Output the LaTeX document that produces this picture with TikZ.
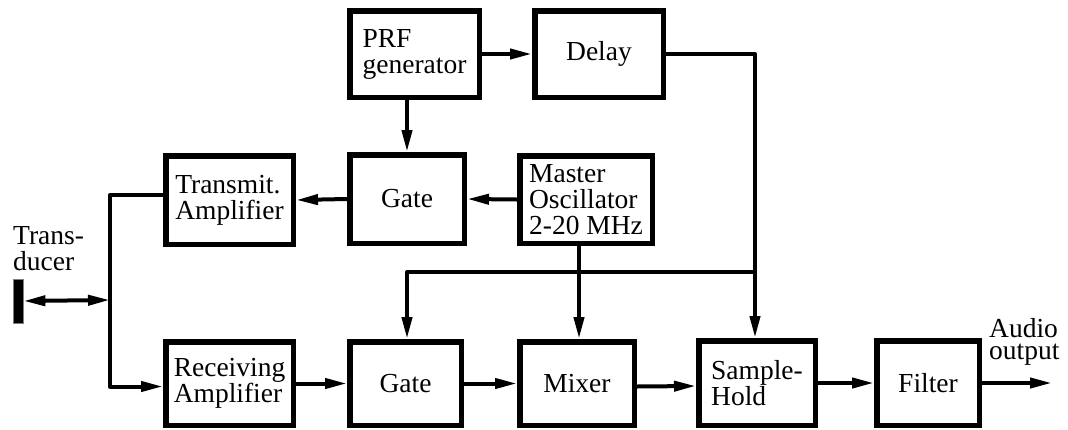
\documentclass[tikz,border=0pt]{standalone}
\usepackage{fontspec}
\setmainfont{Liberation Serif}
\usetikzlibrary{arrows.meta}

\begin{document}
\begin{tikzpicture}[x=1pt,y=-1pt,
  txt/.style={font=\fontsize{27.5}{26}\selectfont},
  box/.style={draw, line width=5.5pt, inner sep=0pt, align=left, txt},
  lbl/.style={inner sep=0pt, align=left, txt},
  wire/.style={line width=4pt, line join=round},
  tip/.tip={Triangle[length=22pt,width=10pt]},
  arr/.style={wire, -tip},
]
\useasboundingbox (0,0) rectangle (1068,429);

% upper row
\node[box, minimum width=129.5, minimum height=86.5] (prf)   at (414.5,54)  {PRF\\generator};
\node[box, minimum width=128.5, minimum height=86.5] (delay) at (599,54)    {Delay};
\node[box, minimum width=127.5, minimum height=88.5] (tx)    at (229.5,200) {Transmit.\\Amplifier};
\node[box, minimum width=114.5, minimum height=88.5] (gateT) at (407,199)   {Gate};
\node[box, minimum width=132.5, minimum height=87.5] (osc)   at (586,199.5) {Master\\Oscillator\\2-20 MHz};

% lower row
\node[box, minimum width=127.5, minimum height=83.5] (rx)    at (229.5,383.5) {Receiving\\Amplifier};
\node[box, minimum width=111.5, minimum height=83.5] (gateB) at (405.5,383.5) {Gate};
\node[box, minimum width=114.5, minimum height=83.5] (mixer) at (577,383.5)   {Mixer};
\node[box, minimum width=116.5, minimum height=84.5] (sh)    at (757,383)     {Sample-\\Hold};
\node[box, minimum width=102.5, minimum height=84.5] (filt)  at (928,383)     {Filter};

% transducer and labels
\node[draw=gray, fill=black, line width=0.8pt, inner sep=0pt,
      minimum width=10, minimum height=44] (xd) at (18,301) {};
\node[lbl, anchor=north west] (xdl) at (13,226) {Trans-\\ducer};
\node[lbl, anchor=north west, font=\fontsize{27.5}{22.5}\selectfont] (aud) at (989,318) {Audio\\output};

% junction points
\coordinate (bus) at (110,300);
\coordinate (tap) at (755,272);
\coordinate (out) at (1052,383);

% connectors
\draw[arr] (prf.east) -- (delay.west);
\draw[arr] (delay.east) -| (tap) -- (tap |- sh.north);
\draw[arr] (tap) -| (gateB.north -| gateT.north);
\draw[arr] (prf.south -| gateT.north) -- (gateT.north);
\draw[arr] (osc.west) -- (gateT.east);
\draw[arr] (gateT.west) -- (tx.east);
\draw[arr] ([xshift=-7pt]osc.south) -- ([xshift=-7pt]osc.south |- mixer.north);
\draw[arr] ([yshift=5pt]tx.west) -| (bus) |- ([yshift=-3pt]rx.west);
\draw[wire, tip-tip] (xd.east) -- (bus);
\draw[arr] (rx.east) -- (gateB.west);
\draw[arr] (gateB.east) -- (mixer.west);
\draw[arr] ([yshift=-3pt]mixer.east) -- ([yshift=-3pt]sh.west);
\draw[arr] (sh.east) -- (filt.west);
\draw[arr] (filt.east) -- (out);
\end{tikzpicture}
\end{document}
